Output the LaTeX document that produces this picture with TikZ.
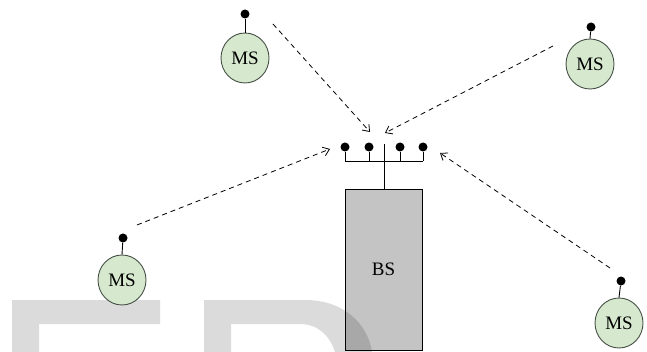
\documentclass[tikz,border=0pt]{standalone}
\usepackage{fontspec}
\setmainfont{Liberation Serif}
\usetikzlibrary{arrows.meta,shapes.geometric}
\definecolor{msgreen}{RGB}{214,233,206}
\definecolor{msborder}{RGB}{70,80,70}
\definecolor{bsgray}{RGB}{196,196,196}
\begin{document}
\begin{tikzpicture}[x=1pt,y=-1pt,
  ms/.style={ellipse,draw=msborder,line width=0.9pt,fill=msgreen,minimum width=48pt,minimum height=50pt,inner sep=0pt,font=\fontsize{19}{21}\selectfont},
  dotnode/.style={circle,fill=black,minimum size=9pt,inner sep=0pt},
  bsbox/.style={rectangle,draw=black,line width=0.9pt,fill=bsgray,minimum width=77pt,minimum height=161pt,inner sep=0pt,font=\fontsize{19}{21}\selectfont},
  wire/.style={line width=0.9pt},
  link/.style={dashed,dash pattern=on 5pt off 4pt,line width=0.8pt,-{Straight Barb[length=6pt,width=9pt]}},
  wmark/.style={fill=black,fill opacity=0.14,draw=none}]
\useasboundingbox (0,0) rectangle (647,352);
% watermark E (behind)
\path[wmark] (12,352) -- (12,300) -- (160,300) -- (160,324) -- (39,324) -- (39,352) -- cycle;
% mobile stations
\node[ms] (ms1) at (245,58) {MS};
\node[ms] (ms2) at (590,64) {MS};
\node[ms] (ms3) at (122,280) {MS};
\node[ms] (ms4) at (619,323) {MS};
\node[dotnode] (a1) at (245,14) {};
\node[dotnode] (a2) at (591,27) {};
\node[dotnode] (a3) at (123,238) {};
\node[dotnode] (a4) at (621,281) {};
\draw[wire] (a1) -- (ms1.north);
\draw[wire] (a2) -- (ms2.north);
\draw[wire] (a3) -- (ms3.north);
\draw[wire] (a4) -- (ms4.north);
% base station
\node[bsbox] (bs) at (383.5,269.5) {BS};
\node[dotnode] (d1) at (345,147) {};
\node[dotnode] (d2) at (369,147) {};
\node[dotnode] (d3) at (400,147) {};
\node[dotnode] (d4) at (423,147) {};
\coordinate (bar1) at (345,161);
\coordinate (bar4) at (423,161);
\coordinate (bar2) at (369,161);
\coordinate (bar3) at (400,161);
\coordinate (mast) at (384,144);
\draw[wire] (bar1) -- (bar4);
\draw[wire] (d1) -- (bar1);
\draw[wire] (d2) -- (bar2);
\draw[wire] (d3) -- (bar3);
\draw[wire] (d4) -- (bar4);
\draw[wire] (mast) -- (bs.north -| mast);
% dashed links
\coordinate (s1) at (273,24);
\coordinate (t1) at (370,132);
\coordinate (s2) at (553,46);
\coordinate (t2) at (385,133);
\coordinate (s3) at (137,225);
\coordinate (t3) at (330,149);
\coordinate (s4) at (610,268);
\coordinate (t4) at (440,153);
\draw[link] (s1) -- (t1);
\draw[link] (s2) -- (t2);
\draw[link] (s3) -- (t3);
\draw[link] (s4) -- (t4);
% watermark D (over BS)
\path[wmark] (204,352) -- (204,300) -- (305,300) .. controls (345,300) and (368,325) .. (372,352) -- (335,352) .. controls (330,336) and (318,324) .. (300,324) -- (231,324) -- (231,352) -- cycle;
\end{tikzpicture}
\end{document}
